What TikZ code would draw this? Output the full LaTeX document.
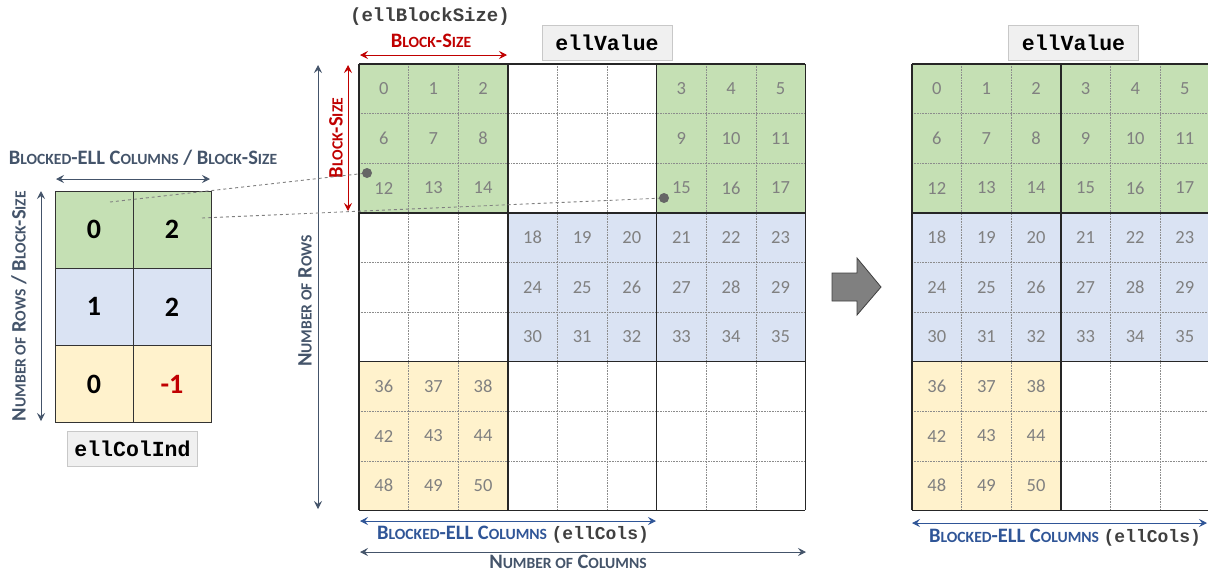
\documentclass[tikz,border=0pt]{standalone}
\usepackage{fontspec}
\setmainfont{Carlito}
\newfontfamily\monofont{Liberation Mono}
\usetikzlibrary{arrows.meta}
\newcommand{\smc}[1]{{\fontsize{15.6}{16}\selectfont #1}} % fake small caps

\begin{document}
\begin{tikzpicture}[x=1pt,y=-1pt]
\definecolor{greencell}{RGB}{197,224,180} % Definition of the green fill
\definecolor{bluecell}{RGB}{218,227,243} % Definition of the blue fill
\definecolor{yellowcell}{RGB}{255,242,204} % Definition of the yellow fill
\definecolor{numgray}{RGB}{128,128,128} % Definition of the number color
\definecolor{slate}{RGB}{68,84,106} % Definition of the label color
\definecolor{darkred}{RGB}{192,0,0} % Definition of the red color
\definecolor{ellblue}{RGB}{47,85,151} % Definition of the blue label color
\definecolor{boxfill}{RGB}{240,240,240} % Definition of the name box fill
\definecolor{boxborder}{RGB}{200,200,200} % Definition of the name box border
\tikzset{
  cellnum/.style={text=numgray,font=\fontsize{18.5}{18.5}\selectfont,inner sep=0pt},
  idxcell/.style={draw=black!80,line width=0.8pt,minimum width=78pt,minimum height=77.3pt,inner sep=0pt,font=\bfseries\fontsize{28}{28}\selectfont},
  dimarrow/.style={{Stealth[length=8pt,width=8pt,inset=3pt]}-{Stealth[length=8pt,width=8pt,inset=3pt]},line width=0.9pt},
  namebox/.style={draw=boxborder,fill=boxfill,font=\monofont\bfseries\fontsize{21.5}{21.5}\selectfont,minimum width=130pt,minimum height=35pt,inner sep=0pt},
  dimlabel/.style={font=\bfseries\fontsize{20.5}{20.5}\selectfont,inner sep=0pt},
  gridline/.style={draw=black!45,densely dotted,line width=0.6pt},
  blockline/.style={draw=black!85,line width=1.5pt},
  link/.style={draw=black!50,dashed,line width=0.9pt}
}
\useasboundingbox (0,0) rectangle (1208,571); % picture size

% ---- ellColInd (left) ----
\node[idxcell,fill=greencell] (c00) at (94,229.6) {0};
\node[idxcell,fill=greencell] (c01) at (172,229.6) {2};
\node[idxcell,fill=bluecell] (c10) at (94,306.9) {1};
\node[idxcell,fill=bluecell] (c11) at (172,306.9) {2};
\node[idxcell,fill=yellowcell] (c20) at (94,384.2) {0};
\node[idxcell,fill=yellowcell,text=darkred] (c21) at (172,384.2) {-1};
\node[namebox] (colind) at (132.5,448.5) {ellColInd};
\coordinate (l1) at (56,179); \coordinate (r1) at (210,179);
\draw[dimarrow,slate] (l1) -- (r1); % width of ellColInd
\node[dimlabel,text=slate] (colindw) at (143,158) {B\smc{LOCKED}-ELL C\smc{OLUMNS} / B\smc{LOCK}-S\smc{IZE}};
\coordinate (t1) at (41,191); \coordinate (b1) at (41,421);
\draw[dimarrow,slate] (t1) -- (b1); % height of ellColInd
\node[dimlabel,text=slate,rotate=90] (colindh) at (19,306) {N\smc{UMBER OF} R\smc{OWS} / B\smc{LOCK}-S\smc{IZE}};

% ---- sparse matrix (middle) ----
\fill[greencell] (359,64) rectangle +(148.8,148.8);
\fill[greencell] (656.6,64) rectangle +(148.8,148.8);
\fill[bluecell] (507.8,212.8) rectangle +(297.6,148.8);
\fill[yellowcell] (359,361.6) rectangle +(148.8,148.8);
\foreach \i in {1,...,8} {
  \draw[gridline] (359+\i*49.6,64) -- (359+\i*49.6,510.4);
  \draw[gridline] (359,64+\i*49.6) -- (805.4,64+\i*49.6);
}
\foreach \i in {0,3,6,9} {
  \draw[blockline] (359+\i*49.6,64) -- (359+\i*49.6,510.4);
  \draw[blockline] (359,64+\i*49.6) -- (805.4,64+\i*49.6);
}
\foreach \r in {0,1,2} \foreach \c [count=\j from 0] in {0,1,2,6,7,8} {
  \pgfmathtruncatemacro\n{6*\r+\j}
  \node[cellnum] (v\n) at (383.8+\c*49.6,88.8+\r*49.6) {\n};
}
\foreach \r in {3,4,5} \foreach \c [count=\j from 0] in {3,4,5,6,7,8} {
  \pgfmathtruncatemacro\n{6*\r+\j}
  \node[cellnum] (v\n) at (383.8+\c*49.6,88.8+\r*49.6) {\n};
}
\foreach \r in {6,7,8} \foreach \c [count=\j from 0] in {0,1,2} {
  \pgfmathtruncatemacro\n{6*\r+\j}
  \node[cellnum] (v\n) at (383.8+\c*49.6,88.8+\r*49.6) {\n};
}
\node[namebox] (value) at (607,42.5) {ellValue};
\node[font=\monofont\bfseries\fontsize{19}{19}\selectfont,text=black!75,inner sep=0pt] (bsize) at (430,17) {(ellBlockSize)};
\coordinate (l2) at (360,55); \coordinate (r2) at (507,55);
\draw[dimarrow,darkred] (l2) -- (r2); % block width
\node[dimlabel,text=darkred] (bsizew) at (431,41) {B\smc{LOCK}-S\smc{IZE}};
\coordinate (t2) at (348,65); \coordinate (b2) at (348,211);
\draw[dimarrow,darkred] (t2) -- (b2); % block height
\node[dimlabel,text=darkred,rotate=90] (bsizeh) at (336,138) {B\smc{LOCK}-S\smc{IZE}};
\coordinate (t3) at (318,65); \coordinate (b3) at (318,509);
\draw[dimarrow,slate] (t3) -- (b3); % number of rows
\node[dimlabel,text=slate,rotate=90] (rows) at (305,301) {N\smc{UMBER OF} R\smc{OWS}};
\coordinate (l4) at (360,521); \coordinate (r4) at (656,521);
\draw[dimarrow,ellblue] (l4) -- (r4); % blocked-ell columns
\node[dimlabel,anchor=base,text=ellblue] (ellcols) at (513,539) {B\smc{LOCKED}-ELL C\smc{OLUMNS} {\monofont\fontsize{18}{18}\selectfont\color{black!75}(ellCols)}};
\coordinate (l5) at (360,552); \coordinate (r5) at (806,552);
\draw[dimarrow,slate] (l5) -- (r5); % number of columns
\node[dimlabel,anchor=base,text=slate] (cols) at (568,568) {N\smc{UMBER OF} C\smc{OLUMNS}};

% ---- links between index and blocks ----
\coordinate (p0) at (110,202); \coordinate (d0) at (367,173);
\coordinate (p1) at (202,218); \coordinate (d1) at (664,198);
\draw[link] (p0) -- (d0);
\draw[link] (p1) -- (d1);
\fill[black!60] (d0) circle (5);
\fill[black!60] (d1) circle (5);

% ---- big arrow ----
\draw[fill=black!50,draw=black!75,line width=0.8pt] (832,273) -- (857,273) -- (857,258) -- (881,287) -- (857,315) -- (857,301) -- (832,301) -- cycle;

% ---- ellValue (right) ----
\fill[greencell] (912,64) rectangle +(297.6,148.8);
\fill[bluecell] (912,212.8) rectangle +(297.6,148.8);
\fill[yellowcell] (912,361.6) rectangle +(148.8,148.8);
\foreach \i in {1,...,5} \draw[gridline] (912+\i*49.6,64) -- (912+\i*49.6,510.4);
\foreach \i in {1,...,8} \draw[gridline] (912,64+\i*49.6) -- (1209.6,64+\i*49.6);
\foreach \i in {0,3,6} \draw[blockline] (912+\i*49.6,64) -- (912+\i*49.6,510.4);
\foreach \i in {0,3,6,9} \draw[blockline] (912,64+\i*49.6) -- (1209.6,64+\i*49.6);
\foreach \r in {0,...,5} \foreach \c in {0,...,5} {
  \pgfmathtruncatemacro\n{6*\r+\c}
  \node[cellnum] (w\n) at (936.8+\c*49.6,88.8+\r*49.6) {\n};
}
\foreach \r in {6,7,8} \foreach \c in {0,1,2} {
  \pgfmathtruncatemacro\n{6*\r+\c}
  \node[cellnum] (w\n) at (936.8+\c*49.6,88.8+\r*49.6) {\n};
}
\node[namebox] (value2) at (1073.5,42.5) {ellValue};
\coordinate (l6) at (912,523); \coordinate (r6) at (1207,523);
\draw[dimarrow,ellblue] (l6) -- (r6); % blocked-ell columns
\node[dimlabel,anchor=base,text=ellblue] (ellcols2) at (1065,542) {B\smc{LOCKED}-ELL C\smc{OLUMNS} {\monofont\fontsize{18}{18}\selectfont\color{black!75}(ellCols)}};
\end{tikzpicture}
\end{document}
